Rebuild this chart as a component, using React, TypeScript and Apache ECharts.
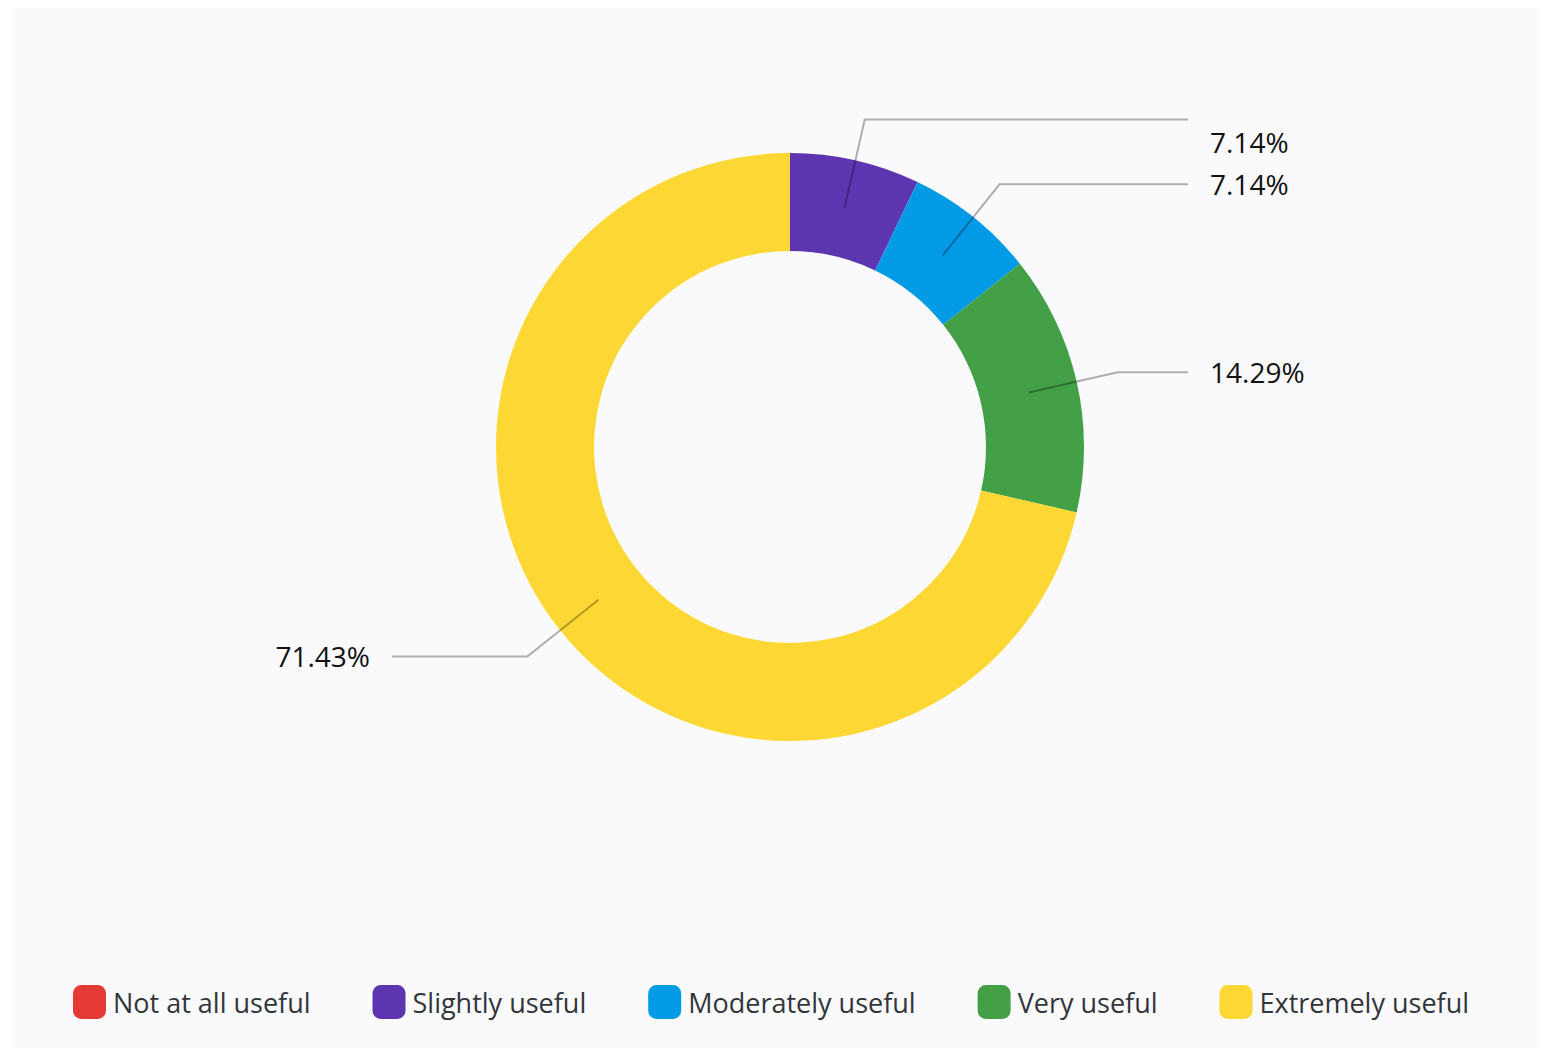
import React, { useEffect, useRef } from "react";
import * as echarts from "echarts";

const categories = ["Not at all useful", "Slightly useful", "Moderately useful", "Very useful", "Extremely useful"];
const counts = [0, 1, 1, 2, 10];
const colors = ["#e53935", "#5e35b1", "#039be5", "#43a047", "#fdd835"];

const CX = 790;
const CY = 447;
const FONT = "'Open Sans', 'Noto Sans', sans-serif";

export default function App() {
  const ref = useRef<HTMLDivElement>(null);
  useEffect(() => {
    if (!ref.current) return;
    const chart = echarts.init(ref.current, undefined, { renderer: "svg" });
    const ringData = categories.map((name, i) => ({
      name,
      value: counts[i],
      itemStyle: { color: colors[i] },
    }));
    const labelData = categories.map((name, i) => ({
      name,
      value: counts[i],
      label: { show: counts[i] > 0 },
      labelLine: { show: counts[i] > 0 },
    }));
    chart.setOption({
      animation: false,
      backgroundColor: "#ffffff",
      graphic: [
        {
          type: "rect",
          z: -10,
          silent: true,
          shape: { x: 12, y: 8, width: 1528, height: 1040 },
          style: { fill: "#fafafc" },
        },
      ],
      legend: {
        data: categories,
        left: "center",
        top: 980,
        icon: "roundRect",
        itemWidth: 33,
        itemHeight: 34,
        itemGap: 62,
        selectedMode: false,
        textStyle: { fontSize: 27, color: "#32363a", fontFamily: FONT, padding: [0, 0, 0, 2] },
      },
      series: [
        {
          type: "pie",
          z: 2,
          center: [CX, CY],
          radius: [196, 294],
          startAngle: 90,
          clockwise: true,
          silent: true,
          label: { show: false },
          labelLine: { show: false },
          emphasis: { disabled: true },
          data: ringData,
        },
        {
          type: "pie",
          z: 5,
          center: [CX, CY],
          radius: [0, 245],
          startAngle: 90,
          clockwise: true,
          silent: true,
          itemStyle: { color: "rgba(0,0,0,0)" },
          emphasis: { disabled: true },
          label: {
            show: true,
            formatter: "{d}%",
            fontSize: 28,
            color: "#111111",
            fontFamily: FONT,
          },
          labelLine: {
            show: true,
            length: 91,
            length2: 70,
            lineStyle: { color: "rgba(0,0,0,0.3)", width: 2 },
          },
          labelLayout: (p: any) => {
            const pts = p.labelLinePoints;
            if (!pts || pts.length < 2) return {};
            const isLeft = pts[1][0] < CX;
            const endX = isLeft ? 392 : 1188;
            const y = pts[1][1];
            return {
              x: isLeft ? endX - 22 : endX + 22,
              y: y + (p.dataIndex === 1 ? 23 : 0),
              align: isLeft ? "right" : "left",
              verticalAlign: "middle",
              labelLinePoints: [pts[0], pts[1], [endX, y]],
            };
          },
          data: labelData,
        },
      ],
    });
    return () => chart.dispose();
  }, []);
  return (
    <div
      ref={ref}
      style={{ position: "fixed", left: 0, top: 0, width: 1542, height: 1051 }}
    />
  );
}
